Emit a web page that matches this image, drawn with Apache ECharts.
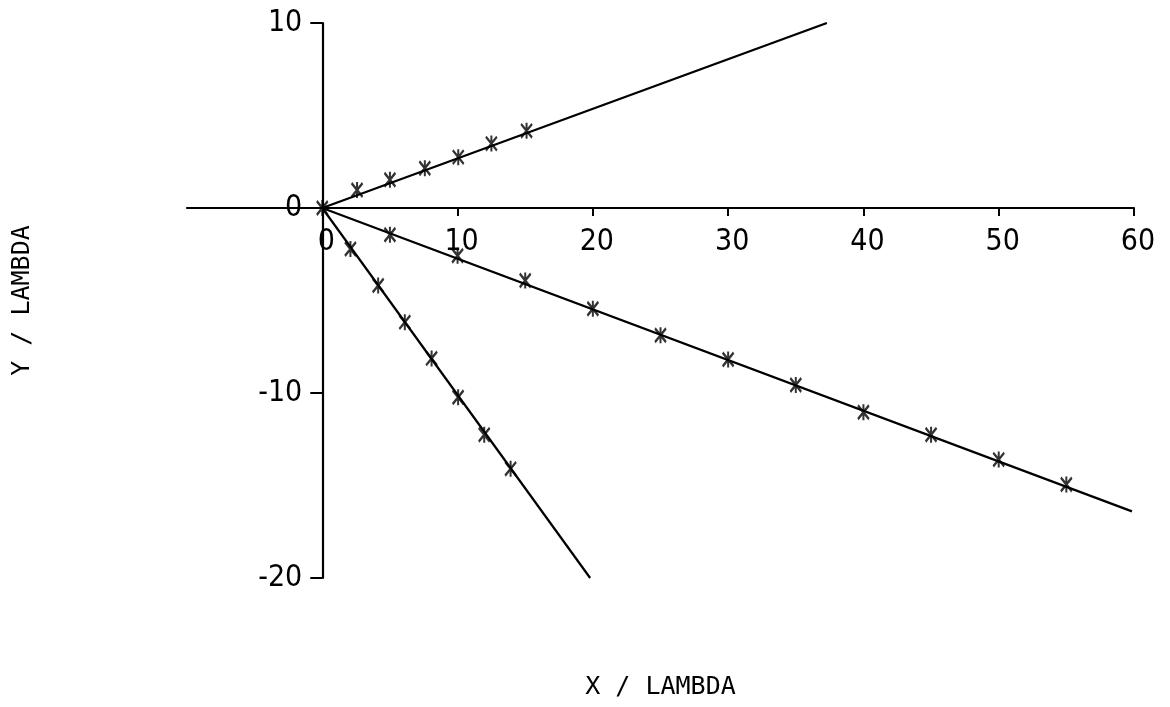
<!DOCTYPE html>
<html>
<head>
<meta charset="utf-8">
<script src="https://cdn.jsdelivr.net/npm/echarts@6/dist/echarts.min.js"></script>
<style>
  html, body { margin: 0; padding: 0; background: #fff; }
  #chart { width: 1170px; height: 707px; }
</style>
</head>
<body>
<div id="chart"></div>
<script>
// Measured points along three rays from the origin
const upperX = [2.57, 5.0, 7.58, 10.05, 12.5, 15.1];
const upperY = [0.97, 1.53, 2.15, 2.75, 3.48, 4.17];

const shallowX = [5, 10, 15, 20, 25, 30, 35, 40, 45, 50, 55];
const shallowY = [-1.45, -2.58, -3.92, -5.45, -6.88, -8.19, -9.57, -11.04, -12.26, -13.6, -14.95];

const steepX = [2.08, 4.13, 6.1, 8.08, 10.04, 11.97, 13.92];
const steepY = [-2.22, -4.19, -6.17, -8.13, -10.23, -12.26, -14.1];

// Fitted rays: start and end points
const upperRay = [[0, 0], [37.3, 10]];
const shallowRay = [[0, 0], [59.85, -16.4]];
const steepRay = [[0, 0], [19.8, -20]];

// Tick values shown on each axis
const xTicks = [0, 10, 20, 30, 40, 50, 60];
const yTicks = [-20, -10, 0, 10];

const xName = 'X / LAMBDA';
const yName = 'Y / LAMBDA';

const pair = (xs, ys) => xs.map((x, i) => [x, ys[i]]);

const labelFont = '"Liberation Sans Narrow", "DejaVu Sans Condensed", "Liberation Sans", sans-serif';
const nameFont = '"DejaVu Sans Mono", "Liberation Mono", monospace';
const ink = '#000';

// plot frame, in pixels
const G = { left: 187, right: 36, top: 23, bottom: 129 };
const W = 1170 - G.left - G.right;
const H = 707 - G.top - G.bottom;
const X_MIN = -10, X_MAX = 60, Y_MIN = -20, Y_MAX = 10;
// distance from the frame edge to the line through the origin
const xLineRise = H * (0 - Y_MIN) / (Y_MAX - Y_MIN);
const yLineInset = W * (0 - X_MIN) / (X_MAX - X_MIN);

// cross marker: X with a short vertical bar through the centre
const crossMark = 'path://M0,1L9,13M9,1L0,13M4.5,0L4.5,14';

const rayLine = (data) => ({
  type: 'line',
  data: data,
  symbol: 'none',
  silent: true,
  lineStyle: { color: ink, width: 2.2 },
  z: 3
});

const markers = (data) => ({
  type: 'scatter',
  data: data,
  symbol: crossMark,
  symbolSize: [11, 16],
  itemStyle: { color: 'rgba(0,0,0,0)', borderColor: ink, borderWidth: 2.4 },
  z: 4
});

const chart = echarts.init(document.getElementById('chart'), null, { renderer: 'canvas' });

chart.setOption({
  animation: false,
  backgroundColor: '#fff',
  grid: { left: G.left, right: G.right, top: G.top, bottom: G.bottom, containLabel: false, outerBoundsMode: 'none' },
  xAxis: {
    type: 'value',
    min: X_MIN,
    max: X_MAX,
    interval: 10,
    name: xName,
    nameLocation: 'middle',
    nameGap: 97,
    nameTextStyle: { color: ink, fontFamily: nameFont, fontSize: 25 },
    axisLine: { onZero: true, lineStyle: { color: ink, width: 2.2 } },
    axisTick: { show: true, length: 8, customValues: xTicks, lineStyle: { color: ink, width: 2 } },
    axisLabel: {
      customValues: xTicks,
      color: ink,
      fontFamily: labelFont,
      fontSize: 30,
      // labels hang just under the line through the origin
      margin: 19 - xLineRise,
      padding: [0, 0, 0, 8]
    },
    splitLine: { show: false }
  },
  yAxis: {
    type: 'value',
    min: Y_MIN,
    max: Y_MAX,
    interval: 10,
    name: yName,
    nameLocation: 'middle',
    nameGap: 152,
    nameRotate: 90,
    nameTextStyle: { color: ink, fontFamily: nameFont, fontSize: 25 },
    axisLine: { onZero: true, lineStyle: { color: ink, width: 2.2 } },
    axisTick: { show: true, length: 12, customValues: yTicks, lineStyle: { color: ink, width: 2 } },
    axisLabel: {
      customValues: yTicks,
      color: ink,
      fontFamily: labelFont,
      fontSize: 30,
      // labels sit just left of the line through the origin
      margin: 20 - yLineInset
    },
    splitLine: { show: false }
  },
  series: [
    rayLine(upperRay),
    rayLine(shallowRay),
    rayLine(steepRay),
    markers(pair(upperX, upperY)),
    markers(pair(shallowX, shallowY)),
    markers(pair(steepX, steepY)),
    markers([[0, 0]])
  ]
});
</script>
</body>
</html>
